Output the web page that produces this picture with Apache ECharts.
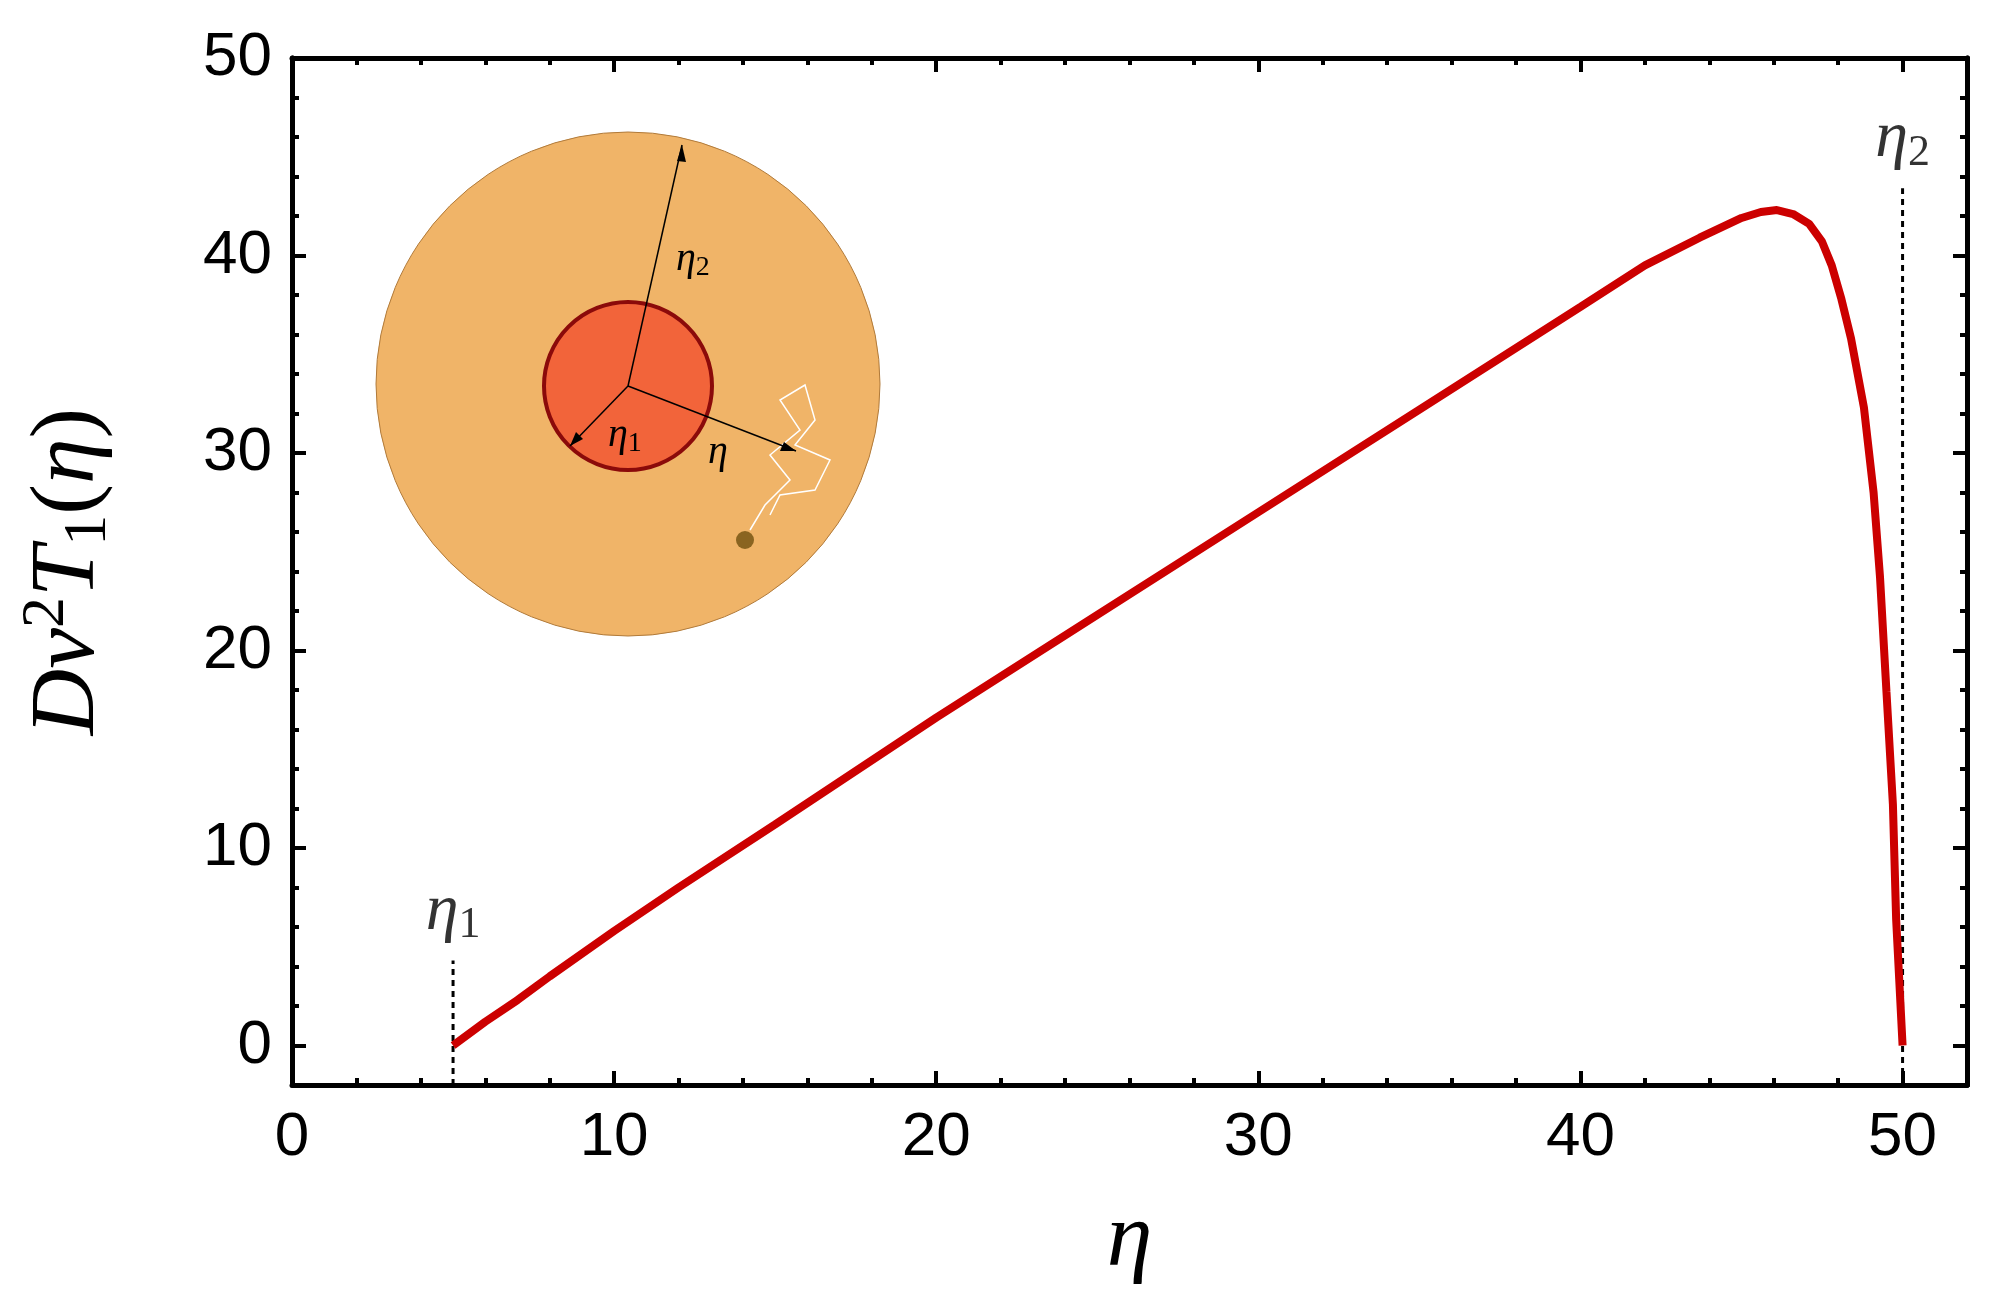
<!DOCTYPE html>
<html>
<head>
<meta charset="utf-8">
<script src="https://cdn.jsdelivr.net/npm/echarts@6/dist/echarts.min.js"></script>
<style>html,body{margin:0;background:#fff}#chart{width:1997px;height:1292px}</style>
</head>
<body>
<div id="chart"></div>
<script>
// curve
const etaVals = [5, 6, 7, 8, 10, 12, 15, 20, 25, 30, 35, 40, 42, 43.7, 45, 45.6, 46.1, 46.6, 47.1, 47.5, 47.8, 48.1, 48.4, 48.8, 49.1, 49.3, 49.5, 49.7, 49.8, 49.9, 50]
const tVals = [0, 1.2, 2.3, 3.5, 5.8, 8.0, 11.2, 16.6, 21.8, 27.0, 32.2, 37.4, 39.5, 40.9, 41.9, 42.2, 42.3, 42.1, 41.6, 40.7, 39.5, 37.8, 35.8, 32.3, 28.0, 23.7, 17.9, 12.2, 6.4, 3.2, 0]
const xTicks = [0, 10, 20, 30, 40, 50]
const yTicks = [0, 10, 20, 30, 40, 50]
const yMinor = [-2, 2, 4, 6, 8, 12, 14, 16, 18, 22, 24, 26, 28, 32, 34, 36, 38, 42, 44, 46, 48]
const eta1 = 5, eta2 = 50

const chart = echarts.init(document.getElementById('chart'))
const serif = 'Liberation Serif'
const tickFont = {fontFamily: 'Liberation Sans', fontSize: 62, color: '#000'}
const line = {onZero: false, lineStyle: {color: '#000', width: 5}}
const rich = {
  i: {fontFamily: serif, fontStyle: 'italic', fontSize: 66, color: '#000'},
  s: {fontFamily: serif, fontSize: 44, color: '#000', padding: [28, 0, 0, 0]},
  n: {fontFamily: serif, fontSize: 92, color: '#000'},
  ni: {fontFamily: serif, fontStyle: 'italic', fontSize: 92, color: '#000'},
  ns: {fontFamily: serif, fontSize: 62, color: '#000', padding: [40, 0, 0, 0]},
  np: {fontFamily: serif, fontSize: 62, color: '#000', padding: [0, 0, 44, 0]}
}
const xAx = (pos, labels) => ({
  type: 'value', min: 0, max: 52, interval: 10, position: pos,
  axisLine: line, splitLine: {show: false},
  axisTick: {inside: true, length: 14, lineStyle: {color: '#000', width: 4}},
  minorTick: {show: true, splitNumber: 5, length: 7, lineStyle: {color: '#000', width: 4}},
  axisLabel: labels ? Object.assign({margin: 22, formatter: v => xTicks.includes(v) ? String(v) : ''}, tickFont) : {show: false}
})
const yMajor = (pos, labels) => ({
  type: 'value', min: -2, max: 50, position: pos, axisLine: line, splitLine: {show: false},
  axisTick: {inside: true, length: 14, customValues: yTicks, lineStyle: {color: '#000', width: 4}},
  axisLabel: labels ? Object.assign({margin: 20, customValues: yTicks}, tickFont) : {show: false}
})
const yMin = pos => ({
  type: 'value', min: -2, max: 50, position: pos, axisLine: line, splitLine: {show: false},
  axisTick: {inside: true, length: 7, customValues: yMinor, lineStyle: {color: '#000', width: 4}},
  axisLabel: {show: false}
})

chart.setOption({
  animation: false,
  grid: {left: 292, right: 30, top: 58, bottom: 200},
  xAxis: [
    Object.assign(xAx('bottom', true), {name: '{ni|η}', nameLocation: 'middle', nameGap: 110, nameTextStyle: {rich}}),
    xAx('top', false)
  ],
  yAxis: [
    Object.assign(yMajor('left', true), {name: '{ni|Dν}{np|2}{ni|T}{ns|1}{n|(}{ni|η}{n|)}', nameLocation: 'middle',
      nameGap: 170, nameRotate: 90, nameTextStyle: {rich}}),
    yMajor('right', false),
    yMin('left'),
    yMin('right')
  ],
  series: [
    {type: 'line', data: etaVals.map((x, i) => [x, tVals[i]]), smooth: false, showSymbol: false,
      lineStyle: {color: '#cc0000', width: 8}, z: 5},
    {type: 'line', data: [[eta1, -2], [eta1, 4.3]], showSymbol: false,
      lineStyle: {color: '#000', width: 3, type: [6, 5]}},
    {type: 'line', data: [[eta2, -2], [eta2, 43.4]], showSymbol: false,
      lineStyle: {color: '#000', width: 3, type: [6, 5]}},
    {type: 'scatter', symbolSize: 0, data: [[eta1, 6.8], [eta2, 45.9]],
      label: {show: true, position: 'inside', color: '#000', formatter: p => p.dataIndex === 0 ? '{i|η}{s|1}' : '{i|η}{s|2}', rich}}
  ],
  graphic: [
    {type: 'circle', shape: {cx: 628, cy: 384, r: 252}, style: {fill: '#f0b468', stroke: '#b07a3a', lineWidth: 1}},
    {type: 'circle', shape: {cx: 628, cy: 386, r: 84}, style: {fill: '#f2643a', stroke: '#8b0a0a', lineWidth: 4}},
    {type: 'polyline', shape: {points: [[750, 530], [765, 505], [790, 480], [770, 455], [800, 430], [780, 400], [805, 385], [815, 420], [795, 445], [830, 460], [815, 490], [780, 495], [770, 515]]},
      style: {stroke: '#fff', lineWidth: 1.5, fill: null}},
    {type: 'circle', shape: {cx: 745, cy: 540, r: 9}, style: {fill: '#8a6420'}},
    {type: 'line', shape: {x1: 628, y1: 386, x2: 682, y2: 145}, style: {stroke: '#000', lineWidth: 1.5}},
    {type: 'line', shape: {x1: 628, y1: 386, x2: 570, y2: 446}, style: {stroke: '#000', lineWidth: 1.5}},
    {type: 'line', shape: {x1: 628, y1: 386, x2: 796, y2: 451}, style: {stroke: '#000', lineWidth: 1.5}},
    {type: 'polygon', shape: {points: [[682, 145], [677, 161], [686, 162]]}, style: {fill: '#000'}},
    {type: 'polygon', shape: {points: [[570, 446], [576, 432], [583, 439]]}, style: {fill: '#000'}},
    {type: 'polygon', shape: {points: [[796, 451], [780, 451], [784, 442]]}, style: {fill: '#000'}},
    {type: 'text', x: 676, y: 236, style: {text: '{i|η}{s|2}', rich: {i: {fontFamily: serif, fontStyle: 'italic', fontSize: 40, color: '#000'}, s: {fontFamily: serif, fontSize: 28, color: '#000', padding: [18, 0, 0, 0]}}}},
    {type: 'text', x: 608, y: 412, style: {text: '{i|η}{s|1}', rich: {i: {fontFamily: serif, fontStyle: 'italic', fontSize: 40, color: '#000'}, s: {fontFamily: serif, fontSize: 28, color: '#000', padding: [18, 0, 0, 0]}}}},
    {type: 'text', x: 708, y: 432, style: {text: 'η', fontFamily: serif, fontStyle: 'italic', fontSize: 40, fill: '#000'}}
  ]
})
</script>
</body>
</html>
